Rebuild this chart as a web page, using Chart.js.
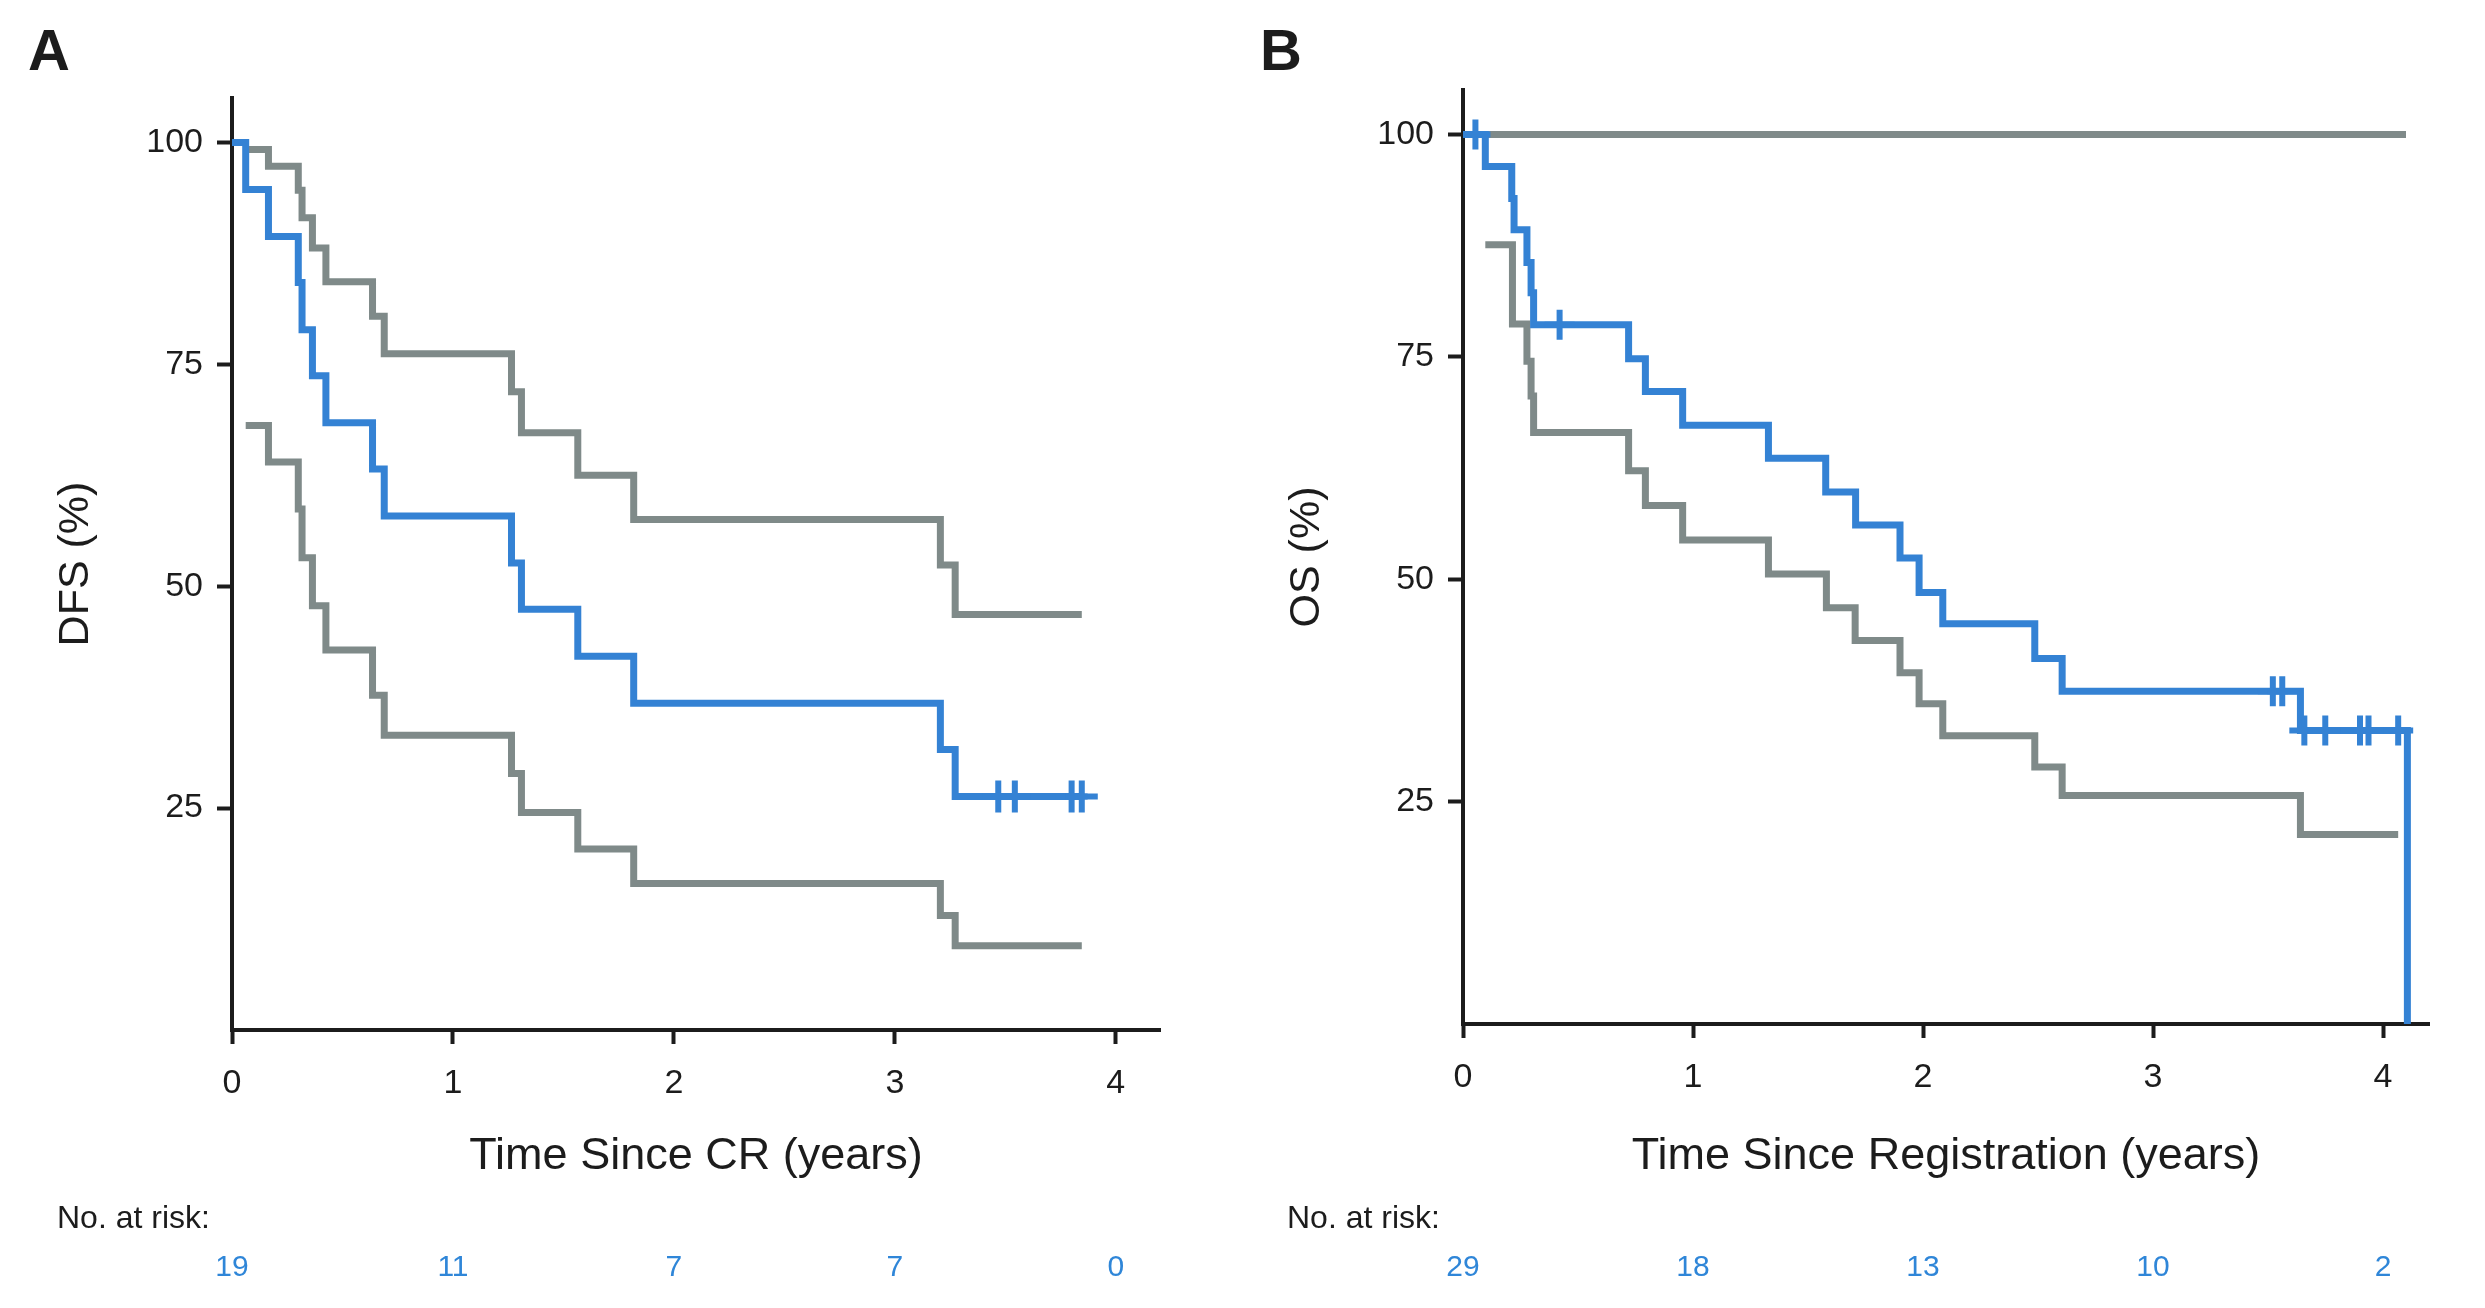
<!DOCTYPE html>
<html><head><meta charset="utf-8">
<script src="https://cdn.jsdelivr.net/npm/chart.js@4.4.1/dist/chart.umd.min.js"></script>
<style>
html,body{margin:0;padding:0;background:#fff;}
body{width:2485px;height:1308px;position:relative;overflow:hidden;}
canvas{position:absolute;top:0;}
#cA{left:0;} #cB{left:1240px;}
</style></head><body>
<canvas id="cA" width="1240" height="1308"></canvas>
<canvas id="cB" width="1245" height="1308"></canvas>
<script>
// ---------- Panel A : DFS ----------
const xTicks = [0, 1, 2, 3, 4];
const yTicks = [25, 50, 75, 100];

const dfsTimes = [0, 0.062, 0.165, 0.30, 0.317, 0.364, 0.425, 0.636, 0.689, 1.265, 1.31, 1.565, 1.818, 3.206, 3.273, 3.85];
const dfsEst   = [100, 94.7, 89.4, 84.2, 78.9, 73.7, 68.4, 63.2, 57.9, 52.6, 47.4, 42.1, 36.8, 31.6, 26.3, 26.3];
const dfsCiTimes = [0.062, 0.165, 0.30, 0.317, 0.364, 0.425, 0.636, 0.689, 1.265, 1.31, 1.565, 1.818, 3.206, 3.273, 3.846];
const dfsUpper   = [99.2, 97.3, 94.6, 91.5, 88.1, 84.3, 80.4, 76.2, 71.9, 67.3, 62.5, 57.5, 52.4, 46.8, 46.8];
const dfsLower   = [68.1, 64.0, 58.7, 53.2, 47.8, 42.8, 37.7, 33.2, 28.9, 24.5, 20.4, 16.5, 12.9, 9.5, 9.5];
const dfsCensorTimes = [3.468, 3.543, 3.80, 3.846];
const dfsCensorVals  = [26.3, 26.3, 26.3, 26.3];
const dfsRisk = [19, 11, 7, 7, 0];

// ---------- Panel B : OS ----------
const osTimes = [0, 0.097, 0.212, 0.222, 0.278, 0.296, 0.307, 0.72, 0.793, 0.955, 1.328, 1.577, 1.707, 1.90, 1.983, 2.086, 2.486, 2.605, 3.641, 4.106];
const osEst   = [100, 96.4, 92.8, 89.3, 85.6, 82.2, 78.6, 74.8, 71.1, 67.3, 63.6, 59.8, 56.1, 52.4, 48.5, 45.0, 41.1, 37.4, 33.0, 0];
const osUpperTimes = [0.061, 4.10];
const osUpper      = [100, 100];
const osLowerTimes = [0.097, 0.215, 0.278, 0.296, 0.307, 0.72, 0.793, 0.955, 1.328, 1.58, 1.705, 1.90, 1.983, 2.086, 2.486, 2.605, 3.641, 4.066];
const osLower      = [87.6, 78.7, 74.5, 70.6, 66.5, 62.2, 58.3, 54.4, 50.6, 46.8, 43.1, 39.5, 36.0, 32.4, 28.9, 25.7, 21.3, 21.3];
const osCensorTimes = [0.054, 0.42, 3.521, 3.562, 3.658, 3.749, 3.90, 3.937, 4.066];
const osCensorVals  = [100, 78.6, 37.4, 37.4, 33.0, 33.0, 33.0, 33.0, 33.0];
const osRisk = [29, 18, 13, 10, 2];

const FAM = "'Liberation Sans', Arial, Helvetica, sans-serif";
const BLUE = '#3482d4';
const BLUE_TXT = '#2f86d8';
const GRAY = '#7f8a89';
const INK = '#1c1c1c';

Chart.defaults.font.family = FAM;
Chart.defaults.color = INK;

const pts = (xs, ys) => xs.map((x, i) => ({x: x, y: ys[i]}));

function stepDs(xs, ys, color, order) {
  return {data: pts(xs, ys), borderColor: color, borderWidth: 7, pointRadius: 0,
    stepped: 'before', fill: false, tension: 0, order: order,
    borderJoinStyle: 'miter', borderCapStyle: 'butt'};
}
function censorDs(xs, ys, r) {
  return {data: pts(xs, ys), showLine: false, pointStyle: 'cross', pointRadius: r,
    pointBorderWidth: 6, borderWidth: 6, pointBorderColor: BLUE, borderColor: BLUE, order: 0};
}

function extraText(letter, letterX, riskX, riskNums) {
  return {
    id: 'extraText',
    afterDraw(chart) {
      const ctx = chart.ctx, xs = chart.scales.x;
      ctx.save();
      ctx.fillStyle = INK;
      ctx.textAlign = 'left';
      ctx.textBaseline = 'alphabetic';
      ctx.font = 'bold 58px ' + FAM;
      ctx.fillText(letter, letterX, 70);
      ctx.font = '32px ' + FAM;
      ctx.fillText('No. at risk:', riskX, 1228);
      ctx.fillStyle = BLUE_TXT;
      ctx.font = '30px ' + FAM;
      ctx.textAlign = 'center';
      xTicks.forEach((t, i) => ctx.fillText(String(riskNums[i]), xs.getPixelForValue(t), 1276));
      ctx.restore();
    }
  };
}

function makeChart(id, cfg) {
  return new Chart(document.getElementById(id), {
    type: 'line',
    data: {datasets: cfg.datasets},
    options: {
      responsive: false, animation: false, devicePixelRatio: 1,
      layout: {padding: {left: 0, top: cfg.top, right: cfg.right, bottom: 0}},
      plugins: {legend: {display: false}, tooltip: {enabled: false}},
      scales: {
        x: {
          type: 'linear', min: 0, max: 4.2,
          afterBuildTicks: s => { s.ticks = xTicks.map(v => ({value: v})); },
          afterFit: s => { s.height = cfg.xh; },
          ticks: {font: {size: 34}, color: INK, padding: 19, callback: v => String(v), maxRotation: 0},
          grid: {drawOnChartArea: false, drawTicks: true, tickLength: 14, tickWidth: 4, tickColor: INK},
          border: {display: true, color: INK, width: 4},
          title: {display: true, text: cfg.xTitle, font: {size: 45}, color: INK, padding: {top: 0, bottom: 124}}
        },
        y: {
          type: 'linear', min: 0, max: 105,
          afterBuildTicks: s => { s.ticks = yTicks.map(v => ({value: v})); },
          afterFit: s => { s.width = cfg.yw; },
          ticks: {font: {size: 34}, color: INK, padding: 14, callback: v => String(v)},
          grid: {drawOnChartArea: false, drawTicks: true, tickLength: 15, tickWidth: 4, tickColor: INK},
          border: {display: true, color: INK, width: 4},
          title: {display: true, text: cfg.yTitle, font: {size: 43}, color: INK, padding: {top: cfg.ytp, bottom: 0}}
        }
      }
    },
    plugins: [extraText(cfg.letter, cfg.letterX, cfg.riskX, cfg.risk)]
  });
}

makeChart('cA', {
  top: 98, right: 80, xh: 278, yw: 232, ytp: 50,
  xTitle: 'Time Since CR (years)', yTitle: 'DFS (%)',
  letter: 'A', letterX: 28, riskX: 57, risk: dfsRisk,
  datasets: [
    censorDs(dfsCensorTimes, dfsCensorVals, 16),
    stepDs(dfsTimes, dfsEst, BLUE, 0),
    stepDs(dfsCiTimes, dfsUpper, GRAY, 1),
    stepDs(dfsCiTimes, dfsLower, GRAY, 1)
  ]
});

makeChart('cB', {
  top: 90, right: 56, xh: 284, yw: 223, ytp: 41,
  xTitle: 'Time Since Registration (years)', yTitle: 'OS (%)',
  letter: 'B', letterX: 20, riskX: 47, risk: osRisk,
  datasets: [
    censorDs(osCensorTimes, osCensorVals, 15),
    stepDs(osTimes, osEst, BLUE, 0),
    stepDs(osUpperTimes, osUpper, GRAY, 1),
    stepDs(osLowerTimes, osLower, GRAY, 1)
  ]
});
</script>
</body></html>
